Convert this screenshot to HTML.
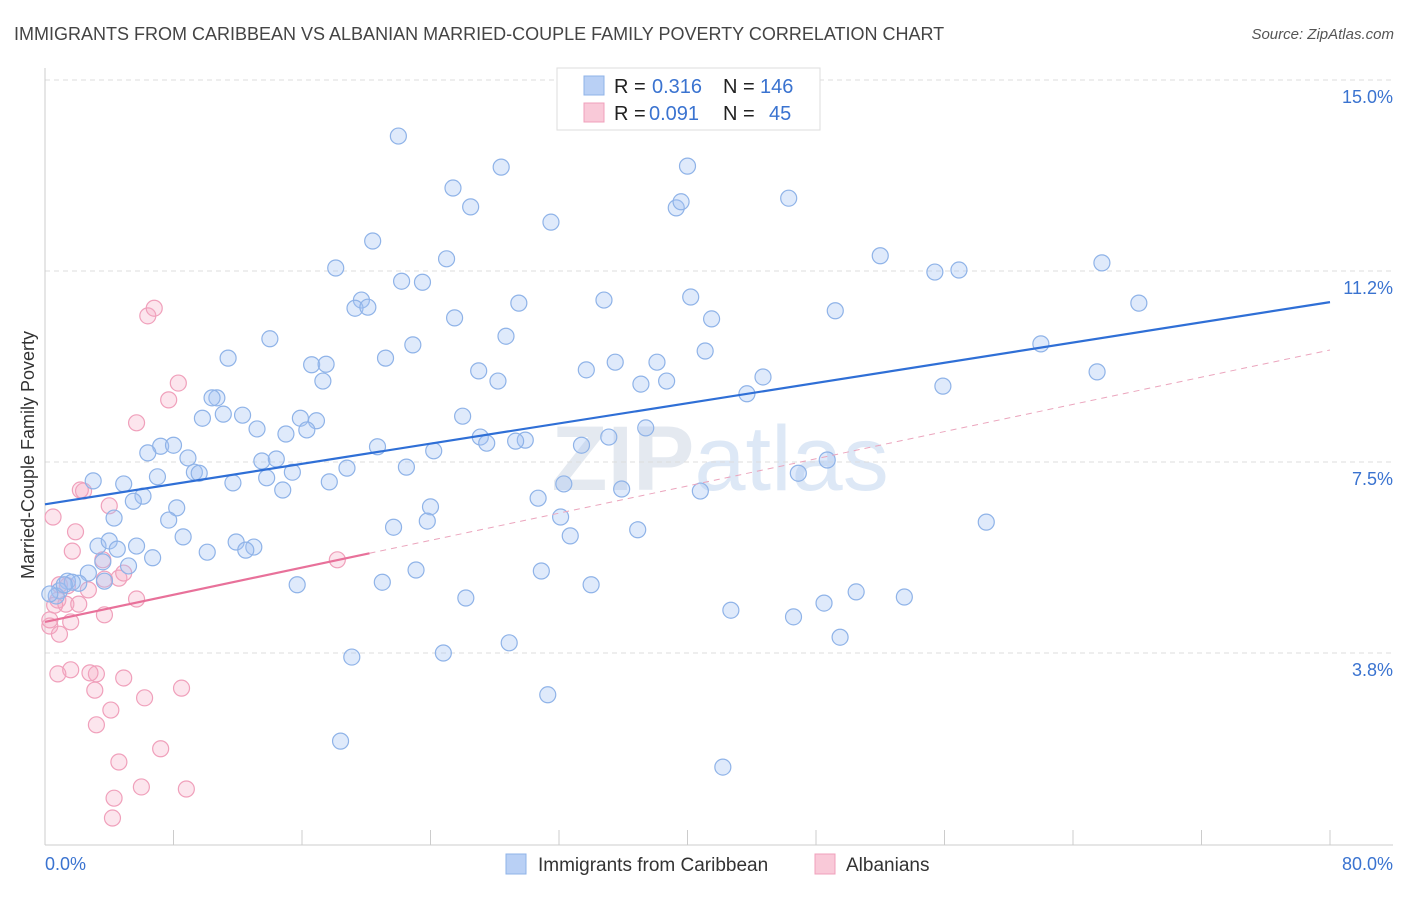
<!DOCTYPE html>
<html><head><meta charset="utf-8"><style>
body{margin:0;background:#fff;font-family:"Liberation Sans",sans-serif;}
svg text{font-family:"Liberation Sans",sans-serif;}
</style></head><body>
<svg id="chart" width="1406" height="892" viewBox="0 0 1406 892" xmlns="http://www.w3.org/2000/svg">
<text x="14" y="40" font-size="18" fill="#444">IMMIGRANTS FROM CARIBBEAN VS ALBANIAN MARRIED-COUPLE FAMILY POVERTY CORRELATION CHART</text>
<text x="1394" y="39" font-size="15" fill="#555" font-style="italic" text-anchor="end">Source: ZipAtlas.com</text>
<text x="720" y="490" font-size="92" fill="#e4e9f0" text-anchor="middle" font-weight="bold">ZIP<tspan fill="#dde8f6" font-weight="normal">atlas</tspan></text>
<g id="grid"></g>
<g id="axes"></g>
<g id="pts"></g>
<g id="trend"></g>
<text transform="translate(34,455) rotate(-90)" font-size="18" fill="#333" text-anchor="middle">Married-Couple Family Poverty</text>
<g>
<rect x="557" y="68" width="263" height="62" fill="#fff" stroke="#ddd"/>
<rect x="584" y="76" width="20" height="19" fill="#b9d0f5" stroke="#8fb3e8"/>
<text x="614" y="93" font-size="20" fill="#222">R = </text><text x="652" y="93" font-size="20" fill="#3a73d0">0.316</text>
<text x="723" y="93" font-size="20" fill="#222">N = </text><text x="760" y="93" font-size="20" fill="#3a73d0">146</text>
<rect x="584" y="103" width="20" height="19" fill="#f9c9d8" stroke="#f0a0bb"/>
<text x="614" y="120" font-size="20" fill="#222">R = </text><text x="649" y="120" font-size="20" fill="#3a73d0">0.091</text>
<text x="723" y="120" font-size="20" fill="#222">N = </text><text x="769" y="120" font-size="20" fill="#3a73d0">45</text>
</g>
<g>
<rect x="506" y="854" width="20" height="20" fill="#b9d0f5" stroke="#8fb3e8"/>
<text x="538" y="871" font-size="19" fill="#333">Immigrants from Caribbean</text>
<rect x="815" y="854" width="20" height="20" fill="#f9c9d8" stroke="#f0a0bb"/>
<text x="846" y="871" font-size="19" fill="#333">Albanians</text>
</g>
</svg>
<script>
const yTicks=[15.0,11.25,7.5,3.75];
const yTickLabels=["15.0%","11.2%","7.5%","3.8%"];
const xLabels=["0.0%","80.0%"];
const blueX=[22.0,28.4,40.0,25.4,26.5,31.5,39.3,39.6,46.3,20.4,18.1,25.0,22.2,23.5,52.0,55.4,56.9,65.8,19.7,19.3,20.1,29.5,34.8,40.2,49.2,68.1,25.5,41.5,14.0,28.7,22.9,41.1,62.0,11.4,16.6,17.5,21.2,35.5,38.1,27.0,33.7,17.3,28.2,37.1,38.7,44.7,55.9,65.5,10.7,10.4,43.7,9.8,11.1,12.3,15.9,16.9,26.0,13.2,16.3,15.0,37.4,7.2,8.0,6.4,8.9,27.1,27.5,29.9,29.3,20.7,24.2,33.4,35.1,13.5,14.4,18.8,22.5,48.7,3.0,4.9,7.0,9.3,9.6,11.7,13.8,15.4,17.7,46.9,6.1,5.5,14.8,30.7,32.3,35.9,40.8,4.3,8.2,7.7,24.0,23.8,21.7,32.1,58.6,8.6,36.9,32.7,3.3,4.0,4.5,5.7,10.1,11.9,13.0,12.5,6.7,3.6,5.2,2.7,2.1,1.4,0.9,0.7,1.7,23.1,30.9,15.7,21.0,34.0,26.2,42.7,48.5,50.5,53.5,46.6,49.5,28.9,24.8,19.1,31.3,18.4,42.2,1.2,3.7,0.3,37.7];
const blueY=[13.90,13.29,13.31,12.88,12.51,12.21,12.49,12.61,12.68,11.84,11.31,11.49,11.05,11.03,11.55,11.23,11.27,11.41,10.68,10.52,10.54,10.62,10.68,10.74,10.47,10.62,10.33,10.31,9.92,9.97,9.80,9.68,9.82,9.54,9.41,9.42,9.54,9.46,9.46,9.29,9.31,9.09,9.09,9.03,9.09,9.17,8.99,9.27,8.76,8.76,8.84,8.36,8.44,8.42,8.36,8.31,8.40,8.15,8.13,8.05,8.17,7.81,7.83,7.68,7.58,7.99,7.87,7.93,7.91,7.80,7.72,7.83,7.99,7.52,7.56,7.38,7.40,7.54,7.13,7.07,7.21,7.30,7.28,7.09,7.19,7.30,7.11,7.28,6.83,6.73,6.95,6.79,7.07,6.97,6.93,6.40,6.60,6.36,6.62,6.34,6.22,6.42,6.32,6.03,6.17,6.05,5.85,5.95,5.79,5.85,5.73,5.93,5.83,5.77,5.62,5.54,5.46,5.32,5.12,5.16,4.97,4.87,5.14,5.38,5.36,5.09,5.14,5.09,4.83,4.59,4.73,4.95,4.85,4.46,4.06,3.95,3.75,3.67,2.93,2.02,1.51,5.09,5.16,4.91,14.61];
const pinkX=[0.5,1.9,6.4,6.8,8.3,7.7,5.7,2.4,4.0,1.7,3.6,4.6,4.9,3.7,1.4,0.8,2.7,1.3,2.1,5.7,3.7,0.3,0.9,1.6,18.2,1.6,0.8,3.2,2.8,4.9,3.1,8.5,6.2,4.1,3.2,7.2,4.6,4.3,6.0,8.8,4.2,0.6,0.9,2.2,0.3];
const pinkY=[6.42,6.13,10.37,10.52,9.05,8.72,8.27,6.93,6.64,5.75,5.58,5.22,5.32,5.20,5.07,4.79,4.99,4.71,4.71,4.81,4.50,4.28,4.12,4.36,5.58,3.42,3.34,3.34,3.36,3.26,3.02,3.06,2.87,2.63,2.34,1.87,1.61,0.90,1.12,1.08,0.51,4.69,5.09,6.95,4.40];
const blueTrend=[6.67,10.64];
const pinkTrend=[4.36,9.70];
const pinkSolidEnd=20.2;

const NS="http://www.w3.org/2000/svg";
const X0=45,X1=1330,Y0=844,PPU=50.93;
function sx(v){return X0+(X1-X0)*v/80;}
function sy(v){return Y0-v*PPU;}
function mk(tag,attrs,parent){const e=document.createElementNS(NS,tag);for(const k in attrs)e.setAttribute(k,attrs[k]);parent.appendChild(e);return e;}
const grid=document.getElementById('grid'),axes=document.getElementById('axes'),pts=document.getElementById('pts'),trend=document.getElementById('trend');
yTicks.forEach((t,i)=>{
  const l=mk('line',{x1:X0,x2:1393,y1:sy(t),y2:sy(t),stroke:'#ddd','stroke-dasharray':'5,4'},grid);
  
  
  const tx=mk('text',{x:1393,y:sy(t)+23,'font-size':18,fill:'#3a73d0','text-anchor':'end'},grid);
  tx.textContent=yTickLabels[i];
  
  
});
let a=mk('line',{x1:X0,x2:X0,y1:68,y2:845,stroke:'#ccc'},axes);


a=mk('line',{x1:X0,x2:1393,y1:845,y2:845,stroke:'#ccc'},axes);


for(let i=1;i<=10;i++){
  const t=mk('line',{x1:sx(i*8),x2:sx(i*8),y1:830,y2:845,stroke:'#ccc'},axes);
  
  
}
let xl=mk('text',{x:45,y:870,'font-size':18,fill:'#3a73d0'},axes);xl.textContent=xLabels[0];


xl=mk('text',{x:1393,y:870,'font-size':18,fill:'#3a73d0','text-anchor':'end'},axes);xl.textContent=xLabels[1];


pinkX.forEach((v,i)=>{
  const c=mk('circle',{cx:sx(v),cy:sy(pinkY[i]),r:8,fill:'rgba(245,170,195,0.3)',stroke:'#f0a0bb','stroke-width':1.2},pts);
  
  
});
blueX.forEach((v,i)=>{
  const c=mk('circle',{cx:sx(v),cy:sy(blueY[i]),r:8,fill:'rgba(164,194,244,0.35)',stroke:'#8fb3e8','stroke-width':1.2},pts);
  
  
});
let t=mk('line',{x1:sx(0),y1:sy(blueTrend[0]),x2:sx(80),y2:sy(blueTrend[1]),stroke:'#2f6fd6','stroke-width':2.2},trend);


const pe=pinkTrend[0]+(pinkTrend[1]-pinkTrend[0])*pinkSolidEnd/80;
t=mk('line',{x1:sx(0),y1:sy(pinkTrend[0]),x2:sx(pinkSolidEnd),y2:sy(pe),stroke:'#e8719a','stroke-width':2.2},trend);


t=mk('line',{x1:sx(pinkSolidEnd),y1:sy(pe),x2:sx(80),y2:sy(pinkTrend[1]),stroke:'#eba5bd','stroke-width':1,'stroke-dasharray':'6,5'},trend);


</script>
</body></html>
